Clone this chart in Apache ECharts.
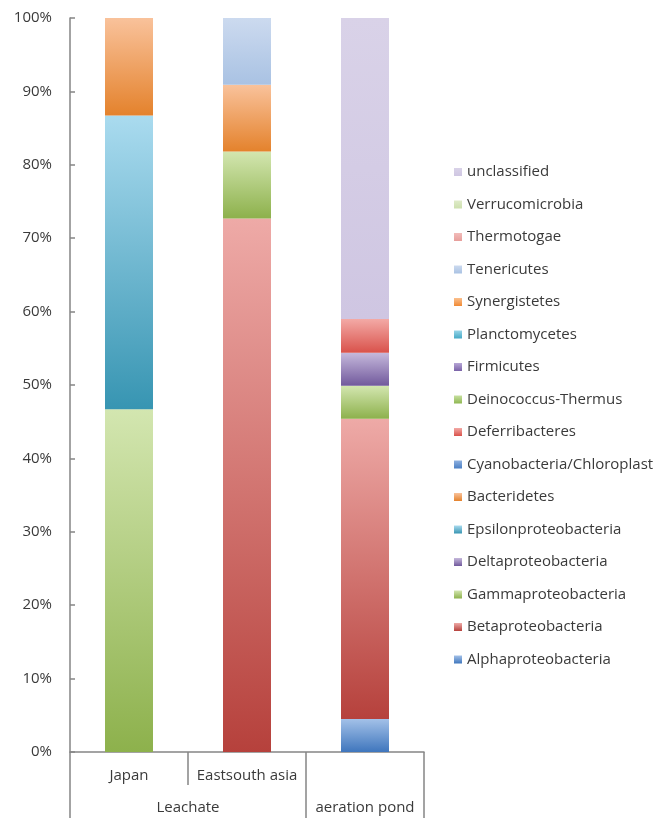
<!DOCTYPE html>
<html>
<head>
<meta charset="utf-8">
<script src="https://cdn.jsdelivr.net/npm/echarts@6/dist/echarts.min.js"></script>
<style>
    html, body { margin: 0; padding: 0; background: #fff; }
    #charts-con { width: 656px; height: 818px; }
</style>
</head>
<body>
<div id="charts-con"></div>
<script>
    // categories (the third site has no first-level label, only its group)
    var sites = ['Japan', 'Eastsouth asia', ''];
    var groups = ['Leachate', 'aeration pond'];
    var yTicks = [0, 10, 20, 30, 40, 50, 60, 70, 80, 90, 100];

    // percentages per site (Japan, Eastsouth asia, aeration pond)
    var alphaproteobacteria = [0, 0, 4.5];
    var betaproteobacteria = [0, 72.7, 40.9];
    var gammaproteobacteria = [46.7, 9.1, 4.5];
    var deltaproteobacteria = [0, 0, 4.5];
    var epsilonproteobacteria = [40.0, 0, 0];
    var bacteridetes = [13.3, 9.1, 0];
    var cyanobacteria = [0, 0, 0];
    var deferribacteres = [0, 0, 4.6];
    var deinococcus = [0, 0, 0];
    var firmicutes = [0, 0, 0];
    var planctomycetes = [0, 0, 0];
    var synergistetes = [0, 0, 0];
    var tenericutes = [0, 9.1, 0];
    var thermotogae = [0, 0, 0];
    var verrucomicrobia = [0, 0, 0];
    var unclassified = [0, 0, 41.0];

    var seriesNames = ['Alphaproteobacteria', 'Betaproteobacteria', 'Gammaproteobacteria', 'Deltaproteobacteria',
        'Epsilonproteobacteria', 'Bacteridetes', 'Cyanobacteria/Chloroplast', 'Deferribacteres',
        'Deinococcus-Thermus', 'Firmicutes', 'Planctomycetes', 'Synergistetes', 'Tenericutes',
        'Thermotogae', 'Verrucomicrobia', 'unclassified'];
    var seriesData = [alphaproteobacteria, betaproteobacteria, gammaproteobacteria, deltaproteobacteria,
        epsilonproteobacteria, bacteridetes, cyanobacteria, deferribacteres, deinococcus, firmicutes,
        planctomycetes, synergistetes, tenericutes, thermotogae, verrucomicrobia, unclassified];
    // [top, bottom] of the excel style gradient
    var seriesColors = [
        ['#a3c1e8', '#3f76bd'],
        ['#eeaaa7', '#b6413c'],
        ['#d3e6b0', '#8db14c'],
        ['#c6b9dc', '#71599c'],
        ['#aadbef', '#3795b2'],
        ['#f9c29b', '#e4822c'],
        ['#8fb1e0', '#4a7fc4'],
        ['#f3aaa6', '#d9524b'],
        ['#c7e0a0', '#8fb752'],
        ['#b7a6d6', '#7a62a8'],
        ['#98d5e8', '#45a9c6'],
        ['#fbc08e', '#f08a35'],
        ['#ccdaef', '#a9c2e3'],
        ['#f2bcba', '#e79e9b'],
        ['#dfebc9', '#cde0ae'],
        ['#d9d2e8', '#cfc6e2']
    ];

    var fontFam = '"Open Sans", sans-serif';
    var fontSz = 15;
    var textGray = '#3a3a3a';
    var axisGray = '#858585';

    var myChart = echarts.init(document.getElementById('charts-con'));

    var series = [];
    for (var i = 0; i < seriesNames.length; i++) {
        series.push({
            name: seriesNames[i],
            type: 'bar',
            stack: 'total',
            barWidth: 48,
            xAxisIndex: 0,
            itemStyle: {
                color: new echarts.graphic.LinearGradient(0, 0, 0, 1, [
                    { offset: 0, color: seriesColors[i][0] },
                    { offset: 1, color: seriesColors[i][1] }
                ])
            },
            data: seriesData[i]
        });
    }

    var option = {
        animation: false,
        grid: {
            left: 70,
            right: 232,
            top: 18,
            bottom: 66
        },
        legend: {
            orient: 'vertical',
            left: 449,
            top: 159,
            icon: 'rect',
            itemWidth: 8,
            itemHeight: 8,
            itemGap: 16.5,
            data: seriesNames.slice().reverse(),
            textStyle: {
                fontFamily: fontFam,
                fontSize: fontSz,
                lineHeight: 16,
                color: textGray
            }
        },
        xAxis: [{
            type: 'category',
            data: sites,
            axisLine: { lineStyle: { color: axisGray, width: 1.5 } },
            axisTick: {
                show: true,
                interval: 0,
                length: 33,
                lineStyle: { color: axisGray, width: 1.5 }
            },
            axisLabel: {
                interval: 0,
                margin: 16,
                fontFamily: fontFam,
                fontSize: fontSz,
                color: textGray
            }
        }, {
            // second level of the category axis
            type: 'value',
            position: 'bottom',
            min: 0,
            max: 3,
            splitLine: { show: false },
            axisLine: { show: false },
            axisTick: {
                show: true,
                customValues: [0, 2, 3],
                length: 66,
                lineStyle: { color: axisGray, width: 1.5 }
            },
            axisLabel: {
                customValues: [1, 2.5],
                margin: 48,
                fontFamily: fontFam,
                fontSize: fontSz,
                color: textGray,
                formatter: function (v) {
                    return v < 2 ? groups[0] : groups[1];
                }
            }
        }],
        yAxis: {
            type: 'value',
            min: yTicks[0],
            max: yTicks[yTicks.length - 1],
            interval: 10,
            splitLine: { show: false },
            axisLine: { show: true, lineStyle: { color: axisGray, width: 1.5 } },
            axisTick: {
                show: true,
                inside: true,
                length: 5,
                lineStyle: { color: axisGray, width: 1.5 }
            },
            axisLabel: {
                margin: 18,
                fontFamily: fontFam,
                fontSize: fontSz,
                color: textGray,
                formatter: '{value}%'
            }
        },
        series: series
    };
    myChart.setOption(option);
</script>
</body>
</html>
